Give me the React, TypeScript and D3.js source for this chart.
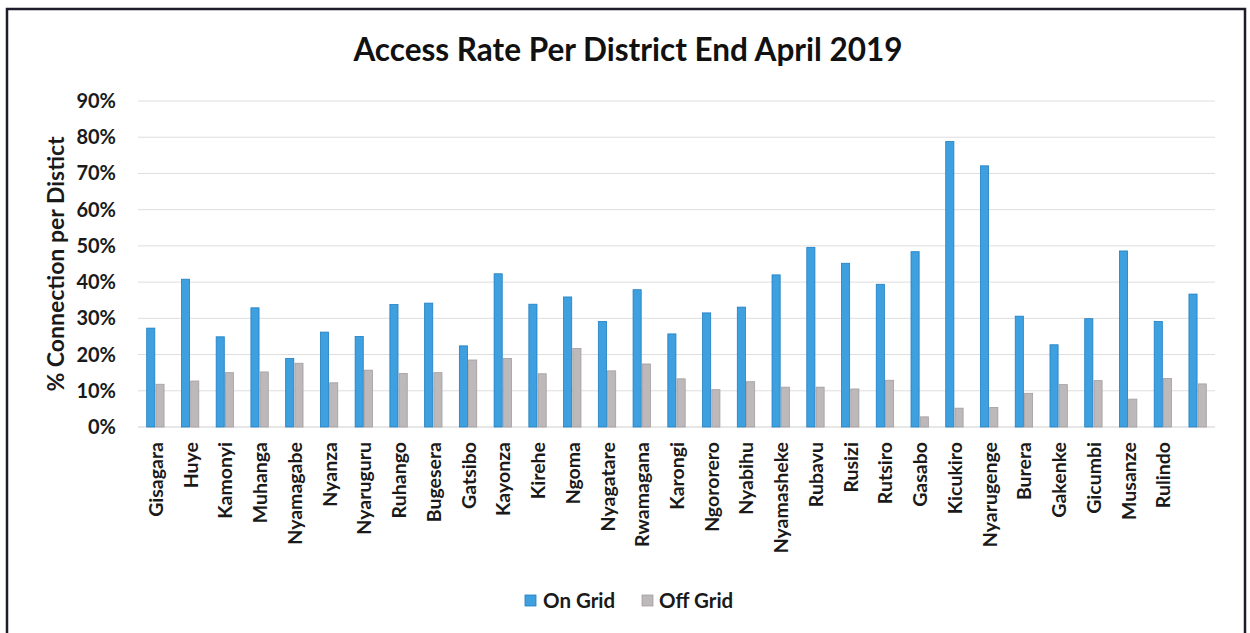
import React from "react";
import * as d3 from "d3";

const districts = [
  "Gisagara", "Huye", "Kamonyi", "Muhanga", "Nyamagabe", "Nyanza", "Nyaruguru", "Ruhango",
  "Bugesera", "Gatsibo", "Kayonza", "Kirehe", "Ngoma", "Nyagatare", "Rwamagana",
  "Karongi", "Ngororero", "Nyabihu", "Nyamasheke", "Rubavu", "Rusizi", "Rutsiro",
  "Gasabo", "Kicukiro", "Nyarugenge",
  "Burera", "Gakenke", "Gicumbi", "Musanze", "Rulindo", "",
];

const onGrid = [
  27.3, 40.8, 24.9, 32.9, 18.9, 26.2, 25.0, 33.8,
  34.2, 22.4, 42.3, 33.9, 35.9, 29.1, 37.9,
  25.7, 31.5, 33.1, 42.0, 49.6, 45.2, 39.4,
  48.4, 78.8, 72.1,
  30.6, 22.7, 29.9, 48.6, 29.1, 36.7,
];

const offGrid = [
  11.8, 12.7, 15.0, 15.2, 17.6, 12.2, 15.7, 14.8,
  15.0, 18.5, 18.9, 14.7, 21.7, 15.5, 17.4,
  13.3, 10.3, 12.5, 11.0, 11.0, 10.5, 12.9,
  2.8, 5.2, 5.4,
  9.3, 11.7, 12.8, 7.7, 13.4, 11.9,
];

const yTicks = [0, 10, 20, 30, 40, 50, 60, 70, 80, 90];
const seriesNames = ["On Grid", "Off Grid"];

const FONT = "Lato, 'Open Sans', sans-serif";
const BLUE = "#3fa0e0";
const BLUE_STROKE = "#1f7ec2";
const GRAY = "#bdb8ba";
const GRAY_STROKE = "#a39d9f";

export default function App() {
  const W = 1250, H = 633;
  const left = 138, right = 1215, top = 101, bottom = 427;

  const x0 = d3.scaleBand<number>()
    .domain(d3.range(districts.length))
    .range([left, right])
    .paddingInner(0.5)
    .paddingOuter(0.25);
  const x1 = d3.scaleBand<number>()
    .domain([0, 1])
    .range([0, x0.bandwidth()])
    .paddingInner(0.12);
  const y = d3.scaleLinear().domain([0, 90]).range([bottom, top]);

  return (
    <svg width={W} height={H} style={{ position: "absolute", left: 0, top: 0, background: "#fff" }}
      fontFamily={FONT}>
      <rect x={7} y={9} width={1238} height={640} fill="none" stroke="#1c1c2a" strokeWidth={2.5} />
      <text x={628} y={61} textAnchor="middle" fontSize={31.5} fontWeight={700} fill="#111">
        Access Rate Per District End April 2019
      </text>

      {yTicks.map((t) => (
        <g key={t}>
          <line x1={left} x2={right} y1={y(t)} y2={y(t)} stroke={t === 0 ? "#cfcfcf" : "#dedede"} strokeWidth={1} />
          <text x={116} y={y(t)} dy="0.35em" textAnchor="end" fontSize={20} fontWeight={700} fill="#1a1a1a">
            {t}%
          </text>
        </g>
      ))}

      <text transform={`translate(55,${264}) rotate(-90)`} textAnchor="middle"
        dominantBaseline="central" fontSize={23} fontWeight={700} fill="#1a1a1a">
        % Connection per Distict
      </text>

      {districts.map((d, i) => {
        const gx = x0(i)!;
        return (
          <g key={i}>
            <rect x={gx + x1(0)!} y={y(onGrid[i])} width={x1.bandwidth()} height={y(0) - y(onGrid[i])}
              fill={BLUE} stroke={BLUE_STROKE} strokeWidth={0.8} />
            <rect x={gx + x1(1)!} y={y(offGrid[i])} width={x1.bandwidth()} height={y(0) - y(offGrid[i])}
              fill={GRAY} stroke={GRAY_STROKE} strokeWidth={0.8} />
            {d && (
              <text transform={`translate(${gx + x0.bandwidth() / 2},${442}) rotate(-90)`}
                textAnchor="end" dominantBaseline="central" fontSize={19.5} fontWeight={700} fill="#1a1a1a">
                {d}
              </text>
            )}
          </g>
        );
      })}

      <g>
        <rect x={525} y={595} width={11} height={11} fill={BLUE} stroke={BLUE_STROKE} strokeWidth={0.8} />
        <text x={543} y={601} dy="0.35em" fontSize={20.5} fontWeight={700} fill="#1a1a1a">{seriesNames[0]}</text>
        <rect x={642} y={595} width={11} height={11} fill={GRAY} stroke={GRAY_STROKE} strokeWidth={0.8} />
        <text x={659} y={601} dy="0.35em" fontSize={20.5} fontWeight={700} fill="#1a1a1a">{seriesNames[1]}</text>
      </g>
    </svg>
  );
}
